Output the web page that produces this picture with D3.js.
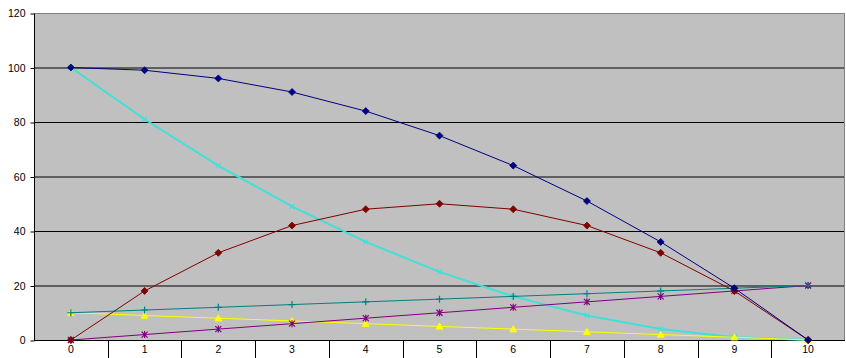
<!DOCTYPE html>
<html>
<head>
<meta charset="utf-8">
<script src="https://cdn.jsdelivr.net/npm/d3@7"></script>
<style>
html,body{margin:0;padding:0;background:#fff;}
svg{display:block;}
text{font-family:"Liberation Sans",Arial,sans-serif;font-size:10.5px;fill:#000;}
</style>
</head>
<body>
<svg id="chart" width="846" height="358"></svg>
<script>
const categories = ["0","1","2","3","4","5","6","7","8","9","10"];
const yTicks = [0,20,40,60,80,100,120];
const navyValues   = [100,99,96,91,84,75,64,51,36,19,0];
const yellowValues = [10,9,8,7,6,5,4,3,2,1,0];
const cyanValues   = [100,81,64,49,36,25,16,9,4,1,0];
const purpleValues = [0,2,4,6,8,10,12,14,16,18,20];
const redValues    = [0,18,32,42,48,50,48,42,32,18,0];
const tealValues   = [10,11,12,13,14,15,16,17,18,19,20];

const series = [
  {values: cyanValues,   color:"#40E0D8", marker:"x", width:2},
  {values: yellowValues, color:"#FFFF00", marker:"triangle", width:1},
  {values: purpleValues, color:"#800080", marker:"asterisk", width:1},
  {values: tealValues,   color:"#008080", marker:"plus", width:1},
  {values: redValues,    color:"#800000", marker:"diamond", width:1},
  {values: navyValues,   color:"#000080", marker:"diamond", width:1}
];

const svg = d3.select("#chart");
const L = 34, R = 845, T = 13, B = 340;

const x = d3.scaleBand().domain(categories).range([L, R]).padding(0);
const y = d3.scaleLinear().domain([0,120]).range([B, T]);
const cx = c => x(c) + x.bandwidth()/2;

// plot background
svg.append("rect").attr("x",L).attr("y",T).attr("width",R-L).attr("height",B-T)
  .attr("fill","#C0C0C0");

// gridlines
svg.append("g").selectAll("line").data(yTicks.filter(d=>d>0 && d<120)).join("line")
  .attr("x1",L).attr("x2",R).attr("y1",d=>y(d)+0.5).attr("y2",d=>y(d)+0.5)
  .attr("stroke","#000").attr("stroke-width",1);

// border top/right
svg.append("path").attr("d",`M${L},${T+0.5}H${R-0.5}V${B}`)
  .attr("fill","none").attr("stroke","#808080").attr("stroke-width",1);

// y axis
const yAxis = d3.axisLeft(y).tickValues(yTicks).tickSize(4).tickPadding(5);
const gy = svg.append("g").attr("transform",`translate(${L+0.5},0.5)`).call(yAxis);
gy.select(".domain").attr("d",`M0,${T}V${B}`).attr("stroke","#000");
gy.selectAll("text").style("font-family",'"Liberation Sans",Arial,sans-serif').style("font-size","10.5px").attr("fill","#000");

// x axis
svg.append("line").attr("x1",L).attr("x2",R).attr("y1",B+0.5).attr("y2",B+0.5).attr("stroke","#000");
svg.append("g").selectAll("line").data(categories.slice(1)).join("line")
  .attr("x1",d=>Math.round(x(d))+0.5).attr("x2",d=>Math.round(x(d))+0.5)
  .attr("y1",B).attr("y2",358).attr("stroke","#000");
svg.append("g").selectAll("text").data(categories).join("text")
  .attr("x",d=>cx(d)).attr("y",353).attr("text-anchor","middle").text(d=>d);

// series
const line = d3.line().x((d,i)=>cx(categories[i])).y(d=>y(d));
function markerPath(type){
  const s = 3.5;
  switch(type){
    case "diamond": return `M0,${-s}L${s},0L0,${s}L${-s},0Z`;
    case "triangle": return `M0,${-s}L${s},${s*0.8}L${-s},${s*0.8}Z`;
    case "x": return `M-2.5,-2.5L2.5,2.5M-2.5,2.5L2.5,-2.5`;
    case "plus": return `M-3.5,0H3.5M0,-3.5V3.5`;
    case "asterisk": return `M-3,-3L3,3M-3,3L3,-3M0,-3.5V3.5`;
  }
}
series.forEach(s=>{
  const g = svg.append("g");
  g.append("path").datum(s.values).attr("d",line).attr("fill","none")
    .attr("stroke",s.color).attr("stroke-width",s.width);
  g.selectAll("path.m").data(s.values).join("path").attr("class","m")
    .attr("transform",(d,i)=>`translate(${cx(categories[i])},${y(d)})`)
    .attr("d",markerPath(s.marker))
    .attr("fill",(s.marker==="diamond"||s.marker==="triangle")?s.color:"none")
    .attr("stroke",s.color).attr("stroke-width",s.marker==="diamond"||s.marker==="triangle"?0.8:1.2);
});
</script>
</body>
</html>
